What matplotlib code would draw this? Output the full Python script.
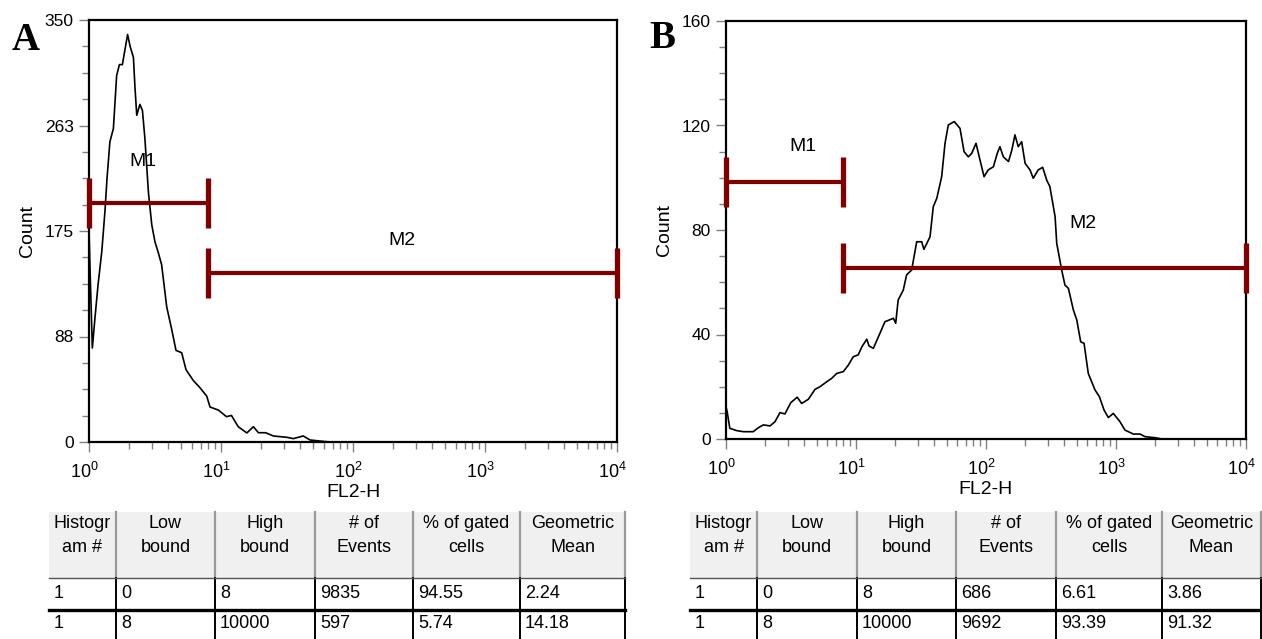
import numpy as np
import matplotlib
matplotlib.use("Agg")
import matplotlib.pyplot as plt
from matplotlib.ticker import FixedLocator, LogLocator, NullFormatter
from matplotlib.transforms import ScaledTranslation

plt.rcParams["font.family"] = ["Liberation Sans", "DejaVu Sans"]
plt.rcParams["mathtext.default"] = "regular"

# ---- histogram A (FL2-H vs count) ----
fl2_a = [1.00, 1.02, 1.06, 1.11, 1.17, 1.25, 1.32, 1.37, 1.44, 1.53, 1.62, 1.70,
         1.79, 1.87, 1.96, 2.05, 2.17, 2.23, 2.30, 2.43, 2.54, 2.65, 2.82, 2.99,
         3.16, 3.35, 3.55, 3.88, 4.24, 4.56, 5.04, 5.43, 6.17, 6.93, 7.80, 8.26,
         9.55, 11.0, 12.0, 13.5, 15.7, 17.6, 19.2, 21.8, 24.9, 31.5, 35.3, 42.0,
         47.2, 56.2, 67.0]
count_a = [176, 140, 78, 103, 130, 158, 191, 219, 249, 260, 304, 313,
           313, 325, 338, 328, 319, 294, 271, 280, 275, 252, 207, 180,
           166, 157, 147, 112, 93, 76, 74, 60, 51, 45, 38, 29,
           26.5, 21, 22, 12.7, 7.5, 12.7, 7.7, 7.7, 5, 3.9, 2.8, 5,
           1.7, 0.8, 0]

# ---- histogram B ----
fl2_b = [1.00, 1.02, 1.07, 1.21, 1.36, 1.62, 1.77, 1.94, 2.18, 2.38, 2.60, 2.84,
         3.15, 3.53, 3.82, 4.30, 4.84, 5.28, 5.95, 6.50, 7.11, 7.99, 8.73, 9.53,
         10.4, 11.1, 12.1, 12.6, 13.6, 14.9, 16.7, 19.4, 20.2, 21.1, 23.1, 24.5,
         26.8, 28.4, 29.3, 32.0, 33.3, 37.1, 39.3, 41.8, 45.6, 48.4, 51.3, 57.0,
         63.1, 67.8, 73.1, 77.6, 83.8, 89.9, 96.6, 104, 114, 122, 128, 136,
         149, 158, 167, 177, 188, 200, 218, 231, 252, 273, 293, 310,
         340, 350, 382, 405, 430, 470, 499, 535, 568, 612, 689, 745,
         809, 873, 953, 1074, 1173, 1358, 1530, 1671, 1995, 2258]
count_b = [12.4, 10.5, 4.1, 3.2, 2.8, 2.8, 4.3, 5.4, 5.0, 6.6, 10.1, 9.6,
           13.9, 16.0, 13.6, 15.2, 19.0, 20.0, 21.9, 23.2, 25.1, 25.8, 28.3, 31.5,
           32.2, 35.3, 38.2, 35.6, 34.7, 39.2, 44.9, 46.2, 44.3, 53.2, 57.0, 62.8,
           64.7, 71.7, 75.5, 75.5, 72.6, 77.4, 88.9, 92.1, 100.4, 113.2, 120.2, 121.5,
           118.9, 110.0, 108.0, 109.3, 113.2, 106.8, 100.4, 103.0, 104.2, 109.3, 111.9, 108.0,
           106.2, 110.6, 116.4, 111.9, 113.8, 105.5, 103.0, 99.8, 103.0, 104.0, 99.1, 96.6,
           85.1, 74.9, 64.7, 58.9, 57.7, 49.4, 45.6, 37.2, 36.6, 25.1, 18.8, 16.2,
           11.1, 8.2, 9.8, 6.6, 3.4, 1.9, 1.9, 0.9, 0.5, 0]

# ---- marker gates: (low, high, level) ----
gate_names = ["M1", "M2"]
gates_a = [(1, 8, 198), (8, 10000, 140)]
gates_b = [(1, 8, 98.5), (8, 10000, 65.3)]

yticks_a = [0, 87.5, 175, 262.5, 350]
yticklabels_a = ["0", "88", "175", "263", "350"]
yticks_b = [0, 40, 80, 120, 160]
yticklabels_b = ["0", "40", "80", "120", "160"]

# ---- tables ----
table_header = ["Histogr\nam #", "Low\nbound", "High\nbound", "# of\nEvents",
                "% of gated\ncells", "Geometric\nMean"]
rows_a = [["1", "0", "8", "9835", "94.55", "2.24"],
          ["1", "8", "10000", "597", "5.74", "14.18"]]
rows_b = [["1", "0", "8", "686", "6.61", "3.86"],
          ["1", "8", "10000", "9692", "93.39", "91.32"]]

W, H = 1262, 639
gate_color = "#800000"

fig = plt.figure(figsize=(W / 100, H / 100), dpi=100)

# overlay in pixel coordinates for tables and panel letters
ov = fig.add_axes([0, 0, 1, 1], zorder=0)
ov.set_xlim(0, W)
ov.set_ylim(H, 0)
ov.axis("off")


def make_panel(rect, fl2, counts, gates, label_pos, yticks, yticklabels, ymax, minor_step, cap):
    ax = fig.add_axes(rect, zorder=2)
    ax.patch.set_alpha(0)
    ax.set_xscale("log")
    ax.set_xlim(1, 10000)
    ax.set_ylim(0, ymax)
    ax.plot(fl2, counts, color="black", lw=1.2, zorder=3)

    for (lo, hi, lev), name, (lx, ly) in zip(gates, gate_names, label_pos):
        ax.plot([lo, hi], [lev, lev], color=gate_color, lw=3.0,
                solid_capstyle="butt", clip_on=False, zorder=4)
        ax.plot([lo, hi], [lev, lev], ls="none", marker="|", ms=cap, mew=3.8,
                color=gate_color, clip_on=False, zorder=4)
        ax.text(lx, ly, name, ha="center", va="center", fontsize=14)

    for s in ax.spines.values():
        s.set_linewidth(1.6)
        s.set_color("black")

    ax.yaxis.set_major_locator(FixedLocator(yticks))
    ax.set_yticklabels(yticklabels)
    ax.yaxis.set_minor_locator(FixedLocator(np.arange(0, ymax + 0.1, minor_step)))
    ax.xaxis.set_major_locator(LogLocator(base=10, numticks=10))
    ax.xaxis.set_minor_locator(LogLocator(base=10, subs=np.arange(2, 10), numticks=10))
    ax.xaxis.set_minor_formatter(NullFormatter())
    ax.tick_params(which="major", direction="out", length=7, width=1,
                   color="#808080", labelsize=12.5, pad=4)
    ax.tick_params(which="minor", direction="out", length=5, width=1, color="#808080")
    ax.tick_params(axis="x", which="major", pad=7, labelsize=13)
    shift = ScaledTranslation(-5 / 100, 0, fig.dpi_scale_trans)
    for lab in ax.get_xticklabels():
        lab.set_transform(lab.get_transform() + shift)
    ax.set_xlabel("FL2-H", fontsize=14, labelpad=2)
    ax.set_ylabel("Count", fontsize=14, labelpad=6)
    return ax


make_panel([89 / W, 1 - 442 / H, 528 / W, 422 / H], fl2_a, count_a, gates_a,
           [(2.57, 233), (234, 167.5)], yticks_a, yticklabels_a, 350, 21.875, 36)
make_panel([726 / W, 1 - 439 / H, 520 / W, 418 / H], fl2_b, count_b, gates_b,
           [(3.9, 111.9), (560, 82.6)], yticks_b, yticklabels_b, 160, 10, 36)

ov.text(26, 40, "A", fontsize=28, fontweight="bold", family="Liberation Serif",
        ha="center", va="center")
ov.text(662, 39, "B", fontsize=28, fontweight="bold", family="Liberation Serif",
        ha="center", va="center")


def draw_table(cols, rows):
    left, right = cols[0], cols[-1]
    top, head_bot, row_sep, bottom = 512, 578, 610, 639
    ov.add_patch(plt.Rectangle((left, top), right - left, head_bot - top,
                               facecolor="#f0f0f0", edgecolor="none"))
    for x in cols[1:]:
        ov.plot([x, x], [top, head_bot], color="#9a9a9a", lw=1.6)
        ov.plot([x, x], [head_bot, bottom], color="black", lw=1.4)
    ov.plot([left, right], [head_bot, head_bot], color="#555555", lw=1.0)
    ov.plot([left, right], [row_sep, row_sep], color="black", lw=2.4)
    for i, txt in enumerate(table_header):
        cx = (cols[i] + cols[i + 1]) / 2
        for j, line in enumerate(txt.split("\n")):
            ov.text(cx, 524 + j * 24, line, ha="center", va="center", fontsize=13)
    for r, row in enumerate(rows):
        cy = 593 + r * 30
        for i, val in enumerate(row):
            ov.text(cols[i] + 5, cy, val, ha="left", va="center", fontsize=13)


draw_table([49, 116, 215, 315, 413, 520, 625], rows_a)
draw_table([690, 757, 857, 956, 1056, 1162, 1261], rows_b)

fig.savefig("out.png", dpi=100)
